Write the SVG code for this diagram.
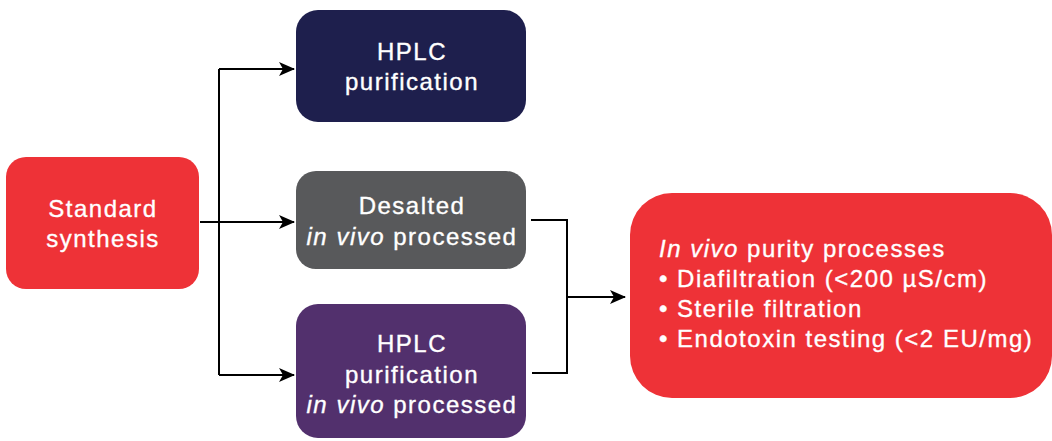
<svg xmlns="http://www.w3.org/2000/svg" width="1052" height="441" viewBox="0 0 1052 441">
  <defs>
    <marker id="arrow" markerWidth="16" markerHeight="14" refX="15" refY="7" orient="auto" markerUnits="userSpaceOnUse">
      <path d="M0,0 L16,7 L0,14 L4,7 Z" fill="#000"/>
    </marker>
    <style>
      .lbl { font-family: "Liberation Sans", Arial, sans-serif; font-size: 24px; letter-spacing: 1.5px; fill: #fff; stroke: #fff; stroke-width: 0.35px; }
      .c { text-anchor: middle; }
      .i { font-style: italic; }
      .wire { fill: none; stroke: #000; stroke-width: 2; }
    </style>
  </defs>
  <rect width="1052" height="441" fill="#fff"/>

  <g id="connectors">
    <path class="wire" d="M200,222 H219"/>
    <path class="wire" d="M219,69 V375"/>
    <path class="wire" d="M219,69 H294" marker-end="url(#arrow)"/>
    <path class="wire" d="M219,222 H294" marker-end="url(#arrow)"/>
    <path class="wire" d="M219,375 H294" marker-end="url(#arrow)"/>
    <path class="wire" d="M531,220 H567 V373 H532"/>
    <path class="wire" d="M567,297 H625" marker-end="url(#arrow)"/>
  </g>

  <g id="standard-synthesis">
    <rect x="6" y="157" width="193" height="132" rx="20" fill="#EE3237"/>
    <text class="lbl c" x="103" y="217">Standard</text>
    <text class="lbl c" x="103" y="247">synthesis</text>
  </g>

  <g id="hplc-purification">
    <rect x="296" y="10" width="230" height="112" rx="22" fill="#1E1F4D"/>
    <text class="lbl c" x="412" y="60">HPLC</text>
    <text class="lbl c" x="412" y="90">purification</text>
  </g>

  <g id="desalted">
    <rect x="296" y="171" width="230" height="98" rx="20" fill="#58595B"/>
    <text class="lbl c" x="412" y="214">Desalted</text>
    <text class="lbl c" x="412" y="245"><tspan class="i">in vivo</tspan> processed</text>
  </g>

  <g id="hplc-in-vivo">
    <rect x="296" y="304" width="230" height="134" rx="22" fill="#52306D"/>
    <text class="lbl c" x="412" y="352">HPLC</text>
    <text class="lbl c" x="412" y="383">purification</text>
    <text class="lbl c" x="412" y="413"><tspan class="i">in vivo</tspan> processed</text>
  </g>

  <g id="purity-processes">
    <rect x="630" y="193" width="422" height="205" rx="42" fill="#EE3237"/>
    <text class="lbl" x="659" y="257"><tspan class="i">In vivo</tspan> purity processes</text>
    <text class="lbl" x="659" y="287">• Diafiltration (&lt;200 µS/cm)</text>
    <text class="lbl" x="659" y="317">• Sterile filtration</text>
    <text class="lbl" x="659" y="347">• Endotoxin testing (&lt;2 EU/mg)</text>
  </g>
</svg>
